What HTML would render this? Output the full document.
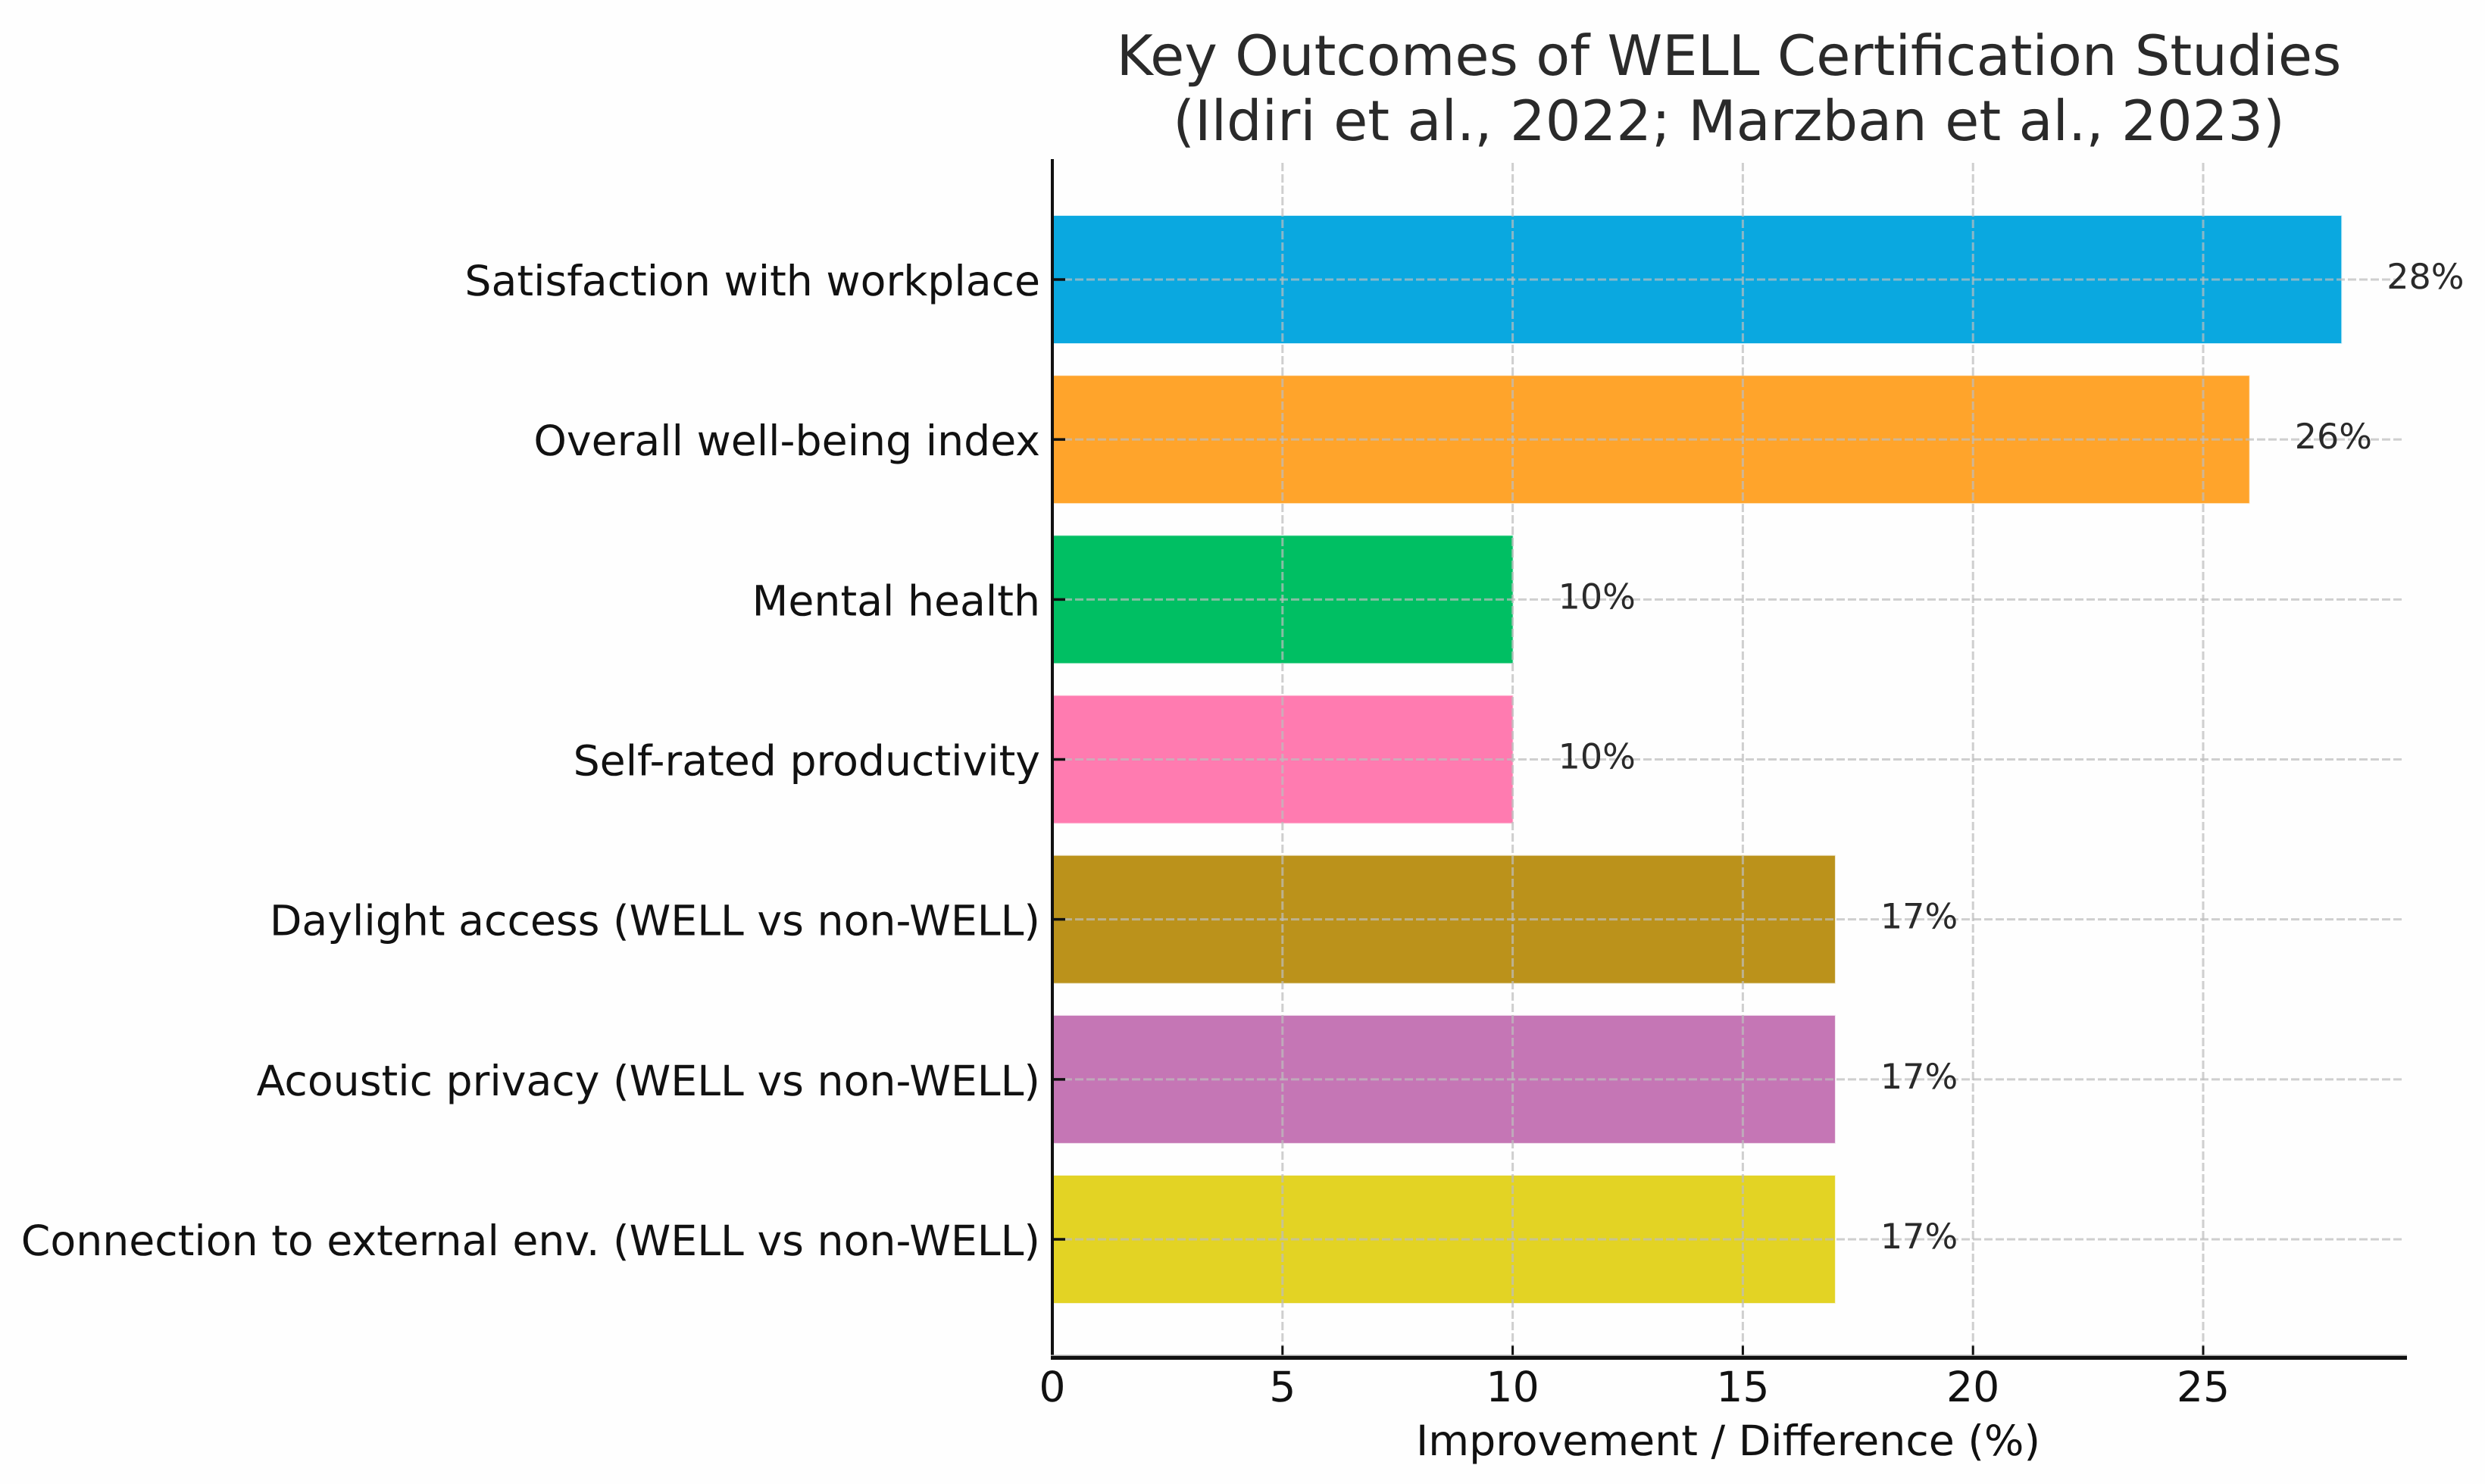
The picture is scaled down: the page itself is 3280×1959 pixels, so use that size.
<!DOCTYPE html>
<html lang="en">
<head>
<meta charset="utf-8">
<title>Key Outcomes of WELL Certification Studies</title>
<style>
html,body{margin:0;padding:0;background:#fefefe;}
svg{display:block;}
text{font-family:"DejaVu Sans","Liberation Sans",sans-serif;text-rendering:geometricPrecision;}
</style>
</head>
<body>
<svg id="chart" xmlns="http://www.w3.org/2000/svg" width="3280" height="1959" viewBox="0 0 3280 1959">
  <rect x="0" y="0" width="3280" height="1959" fill="#fefefe"/>
  <g id="bars"></g>
  <g id="grid"></g>
  <g id="axes"></g>
  <g id="labels"></g>
  <text x="2282" y="99" font-size="73.5" text-anchor="middle" fill="#2a2a2a">Key Outcomes of WELL Certification Studies</text>
  <text x="2282" y="185" font-size="73.5" text-anchor="middle" fill="#2a2a2a">(Ildiri et al., 2022; Marzban et al., 2023)</text>
  <text x="2281" y="1921" font-size="55.3" text-anchor="middle" fill="#111111">Improvement / Difference (%)</text>
</svg>
<script>
const categories = [
  "Satisfaction with workplace",
  "Overall well-being index",
  "Mental health",
  "Self-rated productivity",
  "Daylight access (WELL vs non-WELL)",
  "Acoustic privacy (WELL vs non-WELL)",
  "Connection to external env. (WELL vs non-WELL)"
];
const values = [28, 26, 10, 10, 17, 17, 17];
const barColors = ["#0aa8e0", "#ffa42b", "#00bf63", "#ff7bb0", "#bb921b", "#c576b5", "#e3d324"];
const xTicks = [0, 5, 10, 15, 20, 25];

const NS = "http://www.w3.org/2000/svg";
const plotLeft = 1389, unitWidth = 60.76, plotRight = 3177;
const firstBandY = 369, bandStep = 211.17, barHeight = 168;
const plotTop = 210, plotBottom = 1792.5;

function xScale(v) { return plotLeft + v * unitWidth; }
function yScale(i) { return firstBandY + i * bandStep; }
function make(tag, attrs, parent, text) {
  const el = document.createElementNS(NS, tag);
  for (const k in attrs) el.setAttribute(k, attrs[k]);
  if (text !== undefined) el.textContent = text;
  parent.appendChild(el);
  return el;
}
const barsG = document.getElementById("bars");
const gridG = document.getElementById("grid");
const axesG = document.getElementById("axes");
const labelsG = document.getElementById("labels");

categories.forEach(function (name, i) {
  const cy = yScale(i);
  const bar = make("rect", {
    x: plotLeft, y: cy - barHeight / 2, width: xScale(values[i]) - plotLeft, height: barHeight,
    fill: barColors[i], stroke: barColors[i], "stroke-opacity": 0.2, "stroke-width": 2
  }, barsG);
  
  

  const hGrid = make("line", {
    x1: plotLeft, x2: plotRight - 4, y1: cy, y2: cy,
    stroke: "#bdbdbd", "stroke-opacity": 0.72, "stroke-width": 3, "stroke-dasharray": "11 4"
  }, gridG);
  
  

  const tick = make("line", {
    x1: plotLeft, x2: plotLeft + 17, y1: cy, y2: cy, stroke: "#111111", "stroke-width": 3.5
  }, axesG);
  
  

  const catLabel = make("text", {
    x: 1373, y: cy + 21, "font-size": 55.3, "text-anchor": "end", fill: "#111111"
  }, labelsG, name);
  
  

  const valLabel = make("text", {
    x: xScale(values[i]) + 60, y: cy + 12, "font-size": 46, fill: "#2a2a2a"
  }, labelsG, values[i] + "%");
  
  
});

xTicks.forEach(function (v) {
  const x = xScale(v);
  if (v > 0) {
    const vGrid = make("line", {
      x1: x, x2: x, y1: 215, y2: plotBottom,
      stroke: "#bdbdbd", "stroke-opacity": 0.72, "stroke-width": 3, "stroke-dasharray": "11 4"
    }, gridG);
    
    
  }
  const tick = make("line", {
    x1: x, x2: x, y1: plotBottom - 16, y2: plotBottom, stroke: "#111111", "stroke-width": 3
  }, axesG);
  
  

  const tickLabel = make("text", {
    x: x, y: 1850, "font-size": 55.3, "text-anchor": "middle", fill: "#111111"
  }, labelsG, String(v));
  
  
});

const leftSpine = make("line", {
  x1: plotLeft, x2: plotLeft, y1: plotTop, y2: plotBottom + 2, stroke: "#111111", "stroke-width": 4
}, axesG);



const bottomHalo = make("line", {
  x1: plotLeft - 2, x2: plotRight, y1: plotBottom - 3, y2: plotBottom - 3, stroke: "#aaaaaa", "stroke-width": 2
}, axesG);



const bottomSpine = make("line", {
  x1: plotLeft - 2, x2: plotRight, y1: plotBottom, y2: plotBottom, stroke: "#111111", "stroke-width": 5
}, axesG);


</script>
</body>
</html>
